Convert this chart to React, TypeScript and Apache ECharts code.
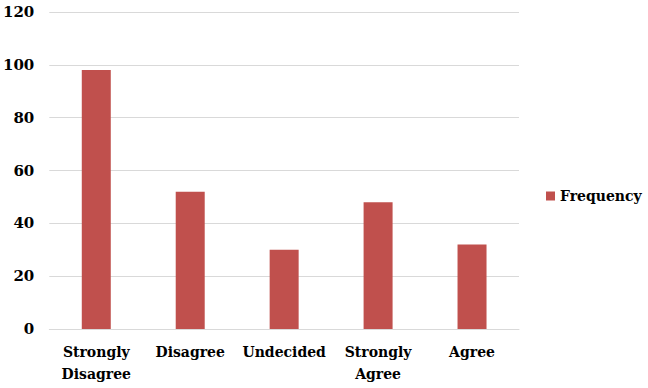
import React, { useEffect, useRef } from "react";
import * as echarts from "echarts";

const categories = ["Strongly\nDisagree", "Disagree", "Undecided", "Strongly\nAgree", "Agree"];
const frequency = [98, 52, 30, 48, 32];
const seriesName = "Frequency";

export default function App() {
  const ref = useRef<HTMLDivElement>(null);
  useEffect(() => {
    const chart = echarts.init(ref.current!, null, { renderer: "svg" });
    const font = "DejaVu Serif";
    chart.setOption({
      animation: false,
      textStyle: { fontFamily: font },
      grid: { left: 49, right: 129, top: 12, bottom: 59, containLabel: false },
      legend: {
        data: [seriesName],
        orient: "vertical",
        left: 541,
        top: 184,
        icon: "rect",
        itemWidth: 9,
        itemHeight: 9,
        itemGap: 5,
        textStyle: { fontFamily: font, fontWeight: "bold", fontSize: 14, color: "#000" },
      },
      xAxis: {
        type: "category",
        data: categories,
        axisLine: { lineStyle: { color: "#d9d9d9" } },
        axisTick: { show: false },
        axisLabel: {
          fontFamily: font,
          fontWeight: "bold",
          fontSize: 14,
          color: "#000",
          lineHeight: 22,
          margin: 12,
          interval: 0,
        },
      },
      yAxis: {
        type: "value",
        min: 0,
        max: 120,
        interval: 20,
        axisLine: { show: false },
        axisTick: { show: false },
        splitLine: { lineStyle: { color: "#d9d9d9" } },
        axisLabel: {
          fontFamily: font,
          fontWeight: "bold",
          fontSize: 15,
          color: "#000",
          margin: 15,
        },
      },
      series: [
        {
          name: seriesName,
          type: "bar",
          data: frequency,
          barWidth: 29,
          itemStyle: { color: "#C0504D" },
        },
      ],
    });
    return () => chart.dispose();
  }, []);
  return <div ref={ref} style={{ width: 648, height: 388, position: "absolute", left: 0, top: 0 }} />;
}
